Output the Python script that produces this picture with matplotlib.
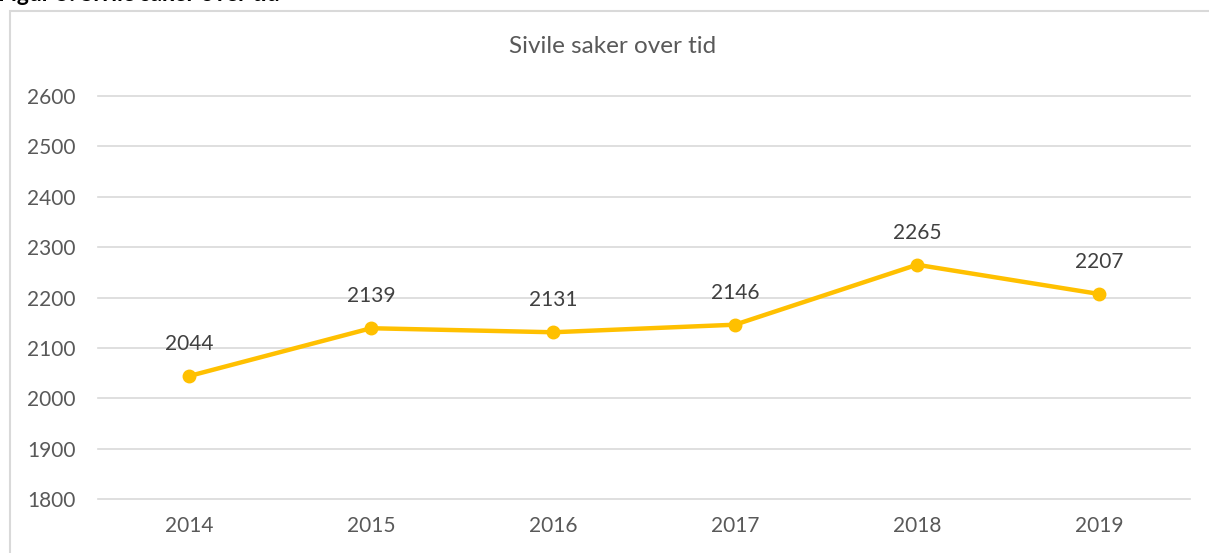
import matplotlib.pyplot as plt
from matplotlib.patches import Rectangle

years = ["2014", "2015", "2016", "2017", "2018", "2019"]
cases = [2044, 2139, 2131, 2146, 2265, 2207]
yticks = [1800, 1900, 2000, 2100, 2200, 2300, 2400, 2500, 2600]

plt.rcParams['font.family'] = ['Lato', 'DejaVu Sans']
grey_txt = '#595959'
grid = '#d9d9d9'

fig = plt.figure(figsize=(12.09, 5.53), dpi=100)
ax = fig.add_axes([98/1209, 1-499/553, (1190-98)/1209, (499-96)/553])

x = list(range(len(years)))
ax.plot(x, cases, color='#FFC000', lw=3.2, marker='o', ms=9, solid_capstyle='round')
for xi, v in zip(x, cases):
    ax.annotate(str(v), (xi, v), xytext=(0, 23), textcoords='offset points',
                ha='center', va='center', fontsize=15, color='#404040')

ax.set_xlim(-0.5, len(years) - 0.5)
ax.set_ylim(1800, 2600)
ax.set_yticks(yticks)
ax.set_xticks(x)
ax.set_xticklabels(years)
ax.tick_params(length=0, labelsize=15, labelcolor=grey_txt)
ax.tick_params(axis='y', pad=16)
ax.tick_params(axis='x', pad=12)
ax.grid(axis='y', color=grid, lw=1.2)
for gl in ax.get_ygridlines():
    gl.set_clip_on(False)
ax.set_axisbelow(True)
for s in ax.spines.values():
    s.set_visible(False)

fig.text(613/1209, 1-47/553, "Sivile saker over tid", ha='center', va='center',
         fontsize=17.5, color=grey_txt)
fig.text(-2/1209, 1-5/553, "Figur 5: Sivile saker over tid", ha='left', va='bottom',
         fontsize=16.5, fontweight='bold', color='black')
fig.patches.append(Rectangle((10/1209, -0.1), 1.2, 1-11/553+0.1, transform=fig.transFigure,
                             fill=False, edgecolor=grid, lw=1.5))

fig.savefig('out.png', dpi=100)
